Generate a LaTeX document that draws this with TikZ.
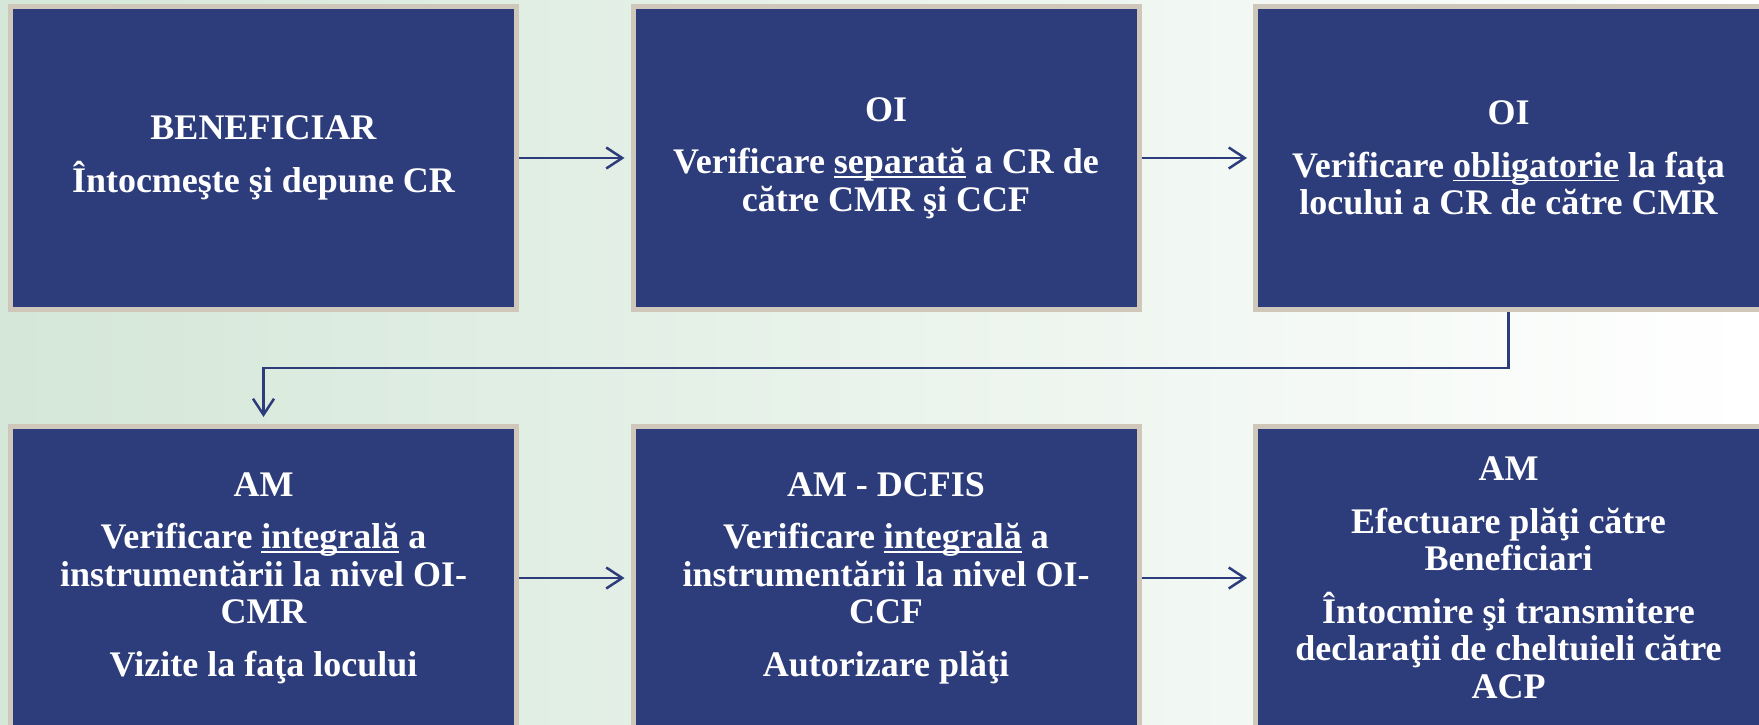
\documentclass[tikz,border=0pt]{standalone}
\usepackage{fontspec}
\setmainfont{Liberation Serif}
\newcommand{\myul}[1]{\setbox0\hbox{#1}\rlap{\rule[-4pt]{\wd0}{1.6pt}}\box0\relax}
\usetikzlibrary{arrows.meta}
\definecolor{navy}{RGB}{45,60,122}
\definecolor{framec}{RGB}{207,200,186}
\definecolor{bgl}{RGB}{212,231,216}
\definecolor{bgm}{RGB}{236,244,236}
\begin{document}
\begin{tikzpicture}[x=1pt,y=-1pt,
  box/.style={draw=framec,line width=5pt,fill=navy,minimum width=506pt,minimum height=303pt,
    inner sep=0pt,align=center,text=white,font=\fontsize{36}{37.5}\selectfont\bfseries},
  arr/.style={draw=navy,line width=2.5pt,
    -{Straight Barb[length=16pt,width=21pt,line width=2.5pt]}}]
\clip (0,0) rectangle (1759,725);
\shade[left color=bgl,middle color=bgm,right color=white] (0,0) rectangle (1759,725);

\node[box] (b1) at (263.5,158) {BENEFICIAR\\[15pt]Întocmeşte şi depune CR};
\node[box] (b2) at (886,158) {OI\\[15pt]Verificare \myul{separată} a CR de\\către CMR şi CCF};
\node[box] (b3) at (1508.5,158) {OI\\[15pt]Verificare \myul{obligatorie} la faţa\\locului a CR de către CMR};

\node[box] (b4) at (263.5,578) {AM\\[15pt]Verificare \myul{integrală} a\\instrumentării la nivel OI-\\CMR\\[15pt]Vizite la faţa locului};
\node[box] (b5) at (886,578) {AM - DCFIS\\[15pt]Verificare \myul{integrală} a\\instrumentării la nivel OI-\\CCF\\[15pt]Autorizare plăţi};
\node[box] (b6) at (1508.5,578) {AM\\[15pt]Efectuare plăţi către\\Beneficiari\\[15pt]Întocmire şi transmitere\\declaraţii de cheltuieli către\\ACP};

\coordinate (m) at (1508.5,368);
\draw[arr,shorten >=6pt] (b1.east) -- (b2.west);
\draw[arr,shorten >=6pt] (b2.east) -- (b3.west);
\draw[arr,shorten >=7pt] (b3.south) -- (m) -| (b4.north);
\draw[arr,shorten >=6pt] (b4.east) -- (b5.west);
\draw[arr,shorten >=6pt] (b5.east) -- (b6.west);
\end{tikzpicture}
\end{document}
